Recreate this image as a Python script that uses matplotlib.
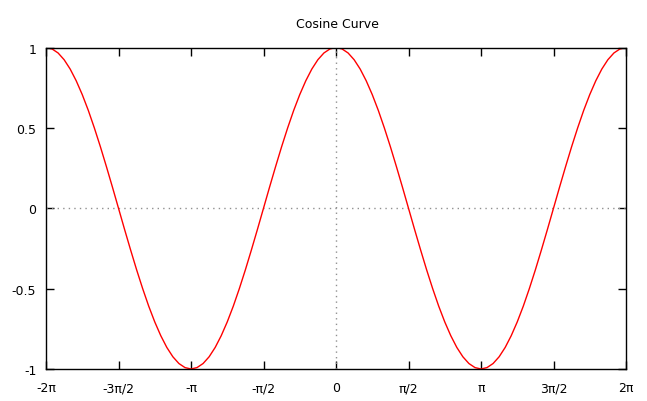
import numpy as np
import matplotlib
matplotlib.use("Agg")
import matplotlib.pyplot as plt

# samples of the curve over one period, read at steps of pi/24
one_period = [1.000, 0.991, 0.966, 0.924, 0.866, 0.793, 0.707, 0.609,
              0.500, 0.383, 0.259, 0.131, 0.000, -0.131, -0.259, -0.383,
              -0.500, -0.609, -0.707, -0.793, -0.866, -0.924, -0.966, -0.991,
              -1.000, -0.991, -0.966, -0.924, -0.866, -0.793, -0.707, -0.609,
              -0.500, -0.383, -0.259, -0.131, 0.000, 0.131, 0.259, 0.383,
              0.500, 0.609, 0.707, 0.793, 0.866, 0.924, 0.966, 0.991]
# the plot shows two periods from -2pi to 2pi
y_values = one_period + one_period + [1.000]
x_steps = list(range(-48, 49))

x_tick_labels = ["-2π", "-3π/2", "-π", "-π/2", "0", "π/2", "π", "3π/2", "2π"]
y_ticks = [-1, -0.5, 0, 0.5, 1]
y_tick_labels = ["-1", "-0.5", "0", "0.5", "1"]

x_values = np.array(x_steps) * np.pi / 24
x_ticks = np.arange(-4, 5) * np.pi / 2

fig = plt.figure(figsize=(6.47, 4.02), dpi=100)
ax = fig.add_axes([46 / 647, 32 / 402, 580 / 647, 321.5 / 402])

ax.axhline(0, color="#909090", linestyle=(0, (1, 3)), linewidth=1)
ax.axvline(0, color="#909090", linestyle=(0, (1, 3)), linewidth=1)

ax.plot(x_values, y_values, color="#ff0000", linewidth=1)

ax.set_xlim(-2 * np.pi, 2 * np.pi)
ax.set_ylim(-1, 1)
ax.set_xticks(x_ticks)
ax.set_xticklabels(x_tick_labels)
ax.set_yticks(y_ticks)
ax.set_yticklabels(y_tick_labels)

ax.tick_params(direction="in", length=6, width=1, labelsize=9,
               top=True, right=True, pad=7)
ax.tick_params(axis="x", pad=9)
for spine in ax.spines.values():
    spine.set_linewidth(1)

fig.text(337 / 647, 1 - 25 / 402, "Cosine Curve", ha="center", va="center",
         fontsize=9)

fig.savefig("out.png", dpi=100)
